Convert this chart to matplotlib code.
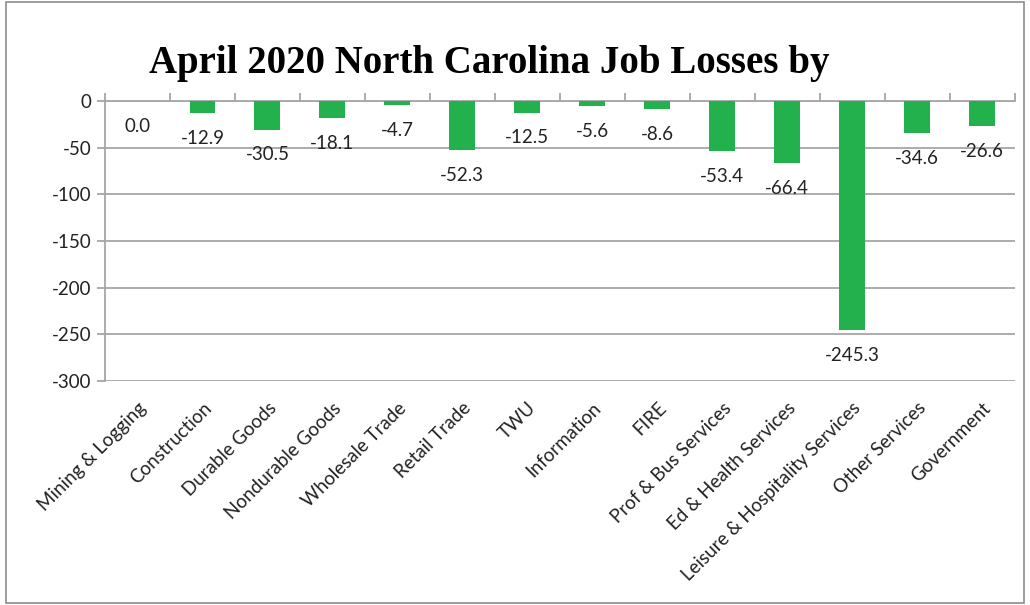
import numpy as np
import matplotlib.pyplot as plt

sectors = ['Mining & Logging', 'Construction', 'Durable Goods', 'Nondurable Goods',
           'Wholesale Trade', 'Retail Trade', 'TWU', 'Information', 'FIRE',
           'Prof & Bus Services', 'Ed & Health Services', 'Leisure & Hospitality Services',
           'Other Services', 'Government']
losses = [0.0, -12.9, -30.5, -18.1, -4.7, -52.3, -12.5, -5.6, -8.6,
          -53.4, -66.4, -245.3, -34.6, -26.6]

plt.rcParams['font.family'] = ['Lato', 'DejaVu Sans']
plt.rcParams['axes.unicode_minus'] = False

fig = plt.figure(figsize=(10.3, 6.05), dpi=100)
ax = fig.add_axes([0.102, 0.370, 0.883, 0.463])

x = np.arange(len(sectors))
ax.bar(x, losses, width=0.4, color='#22b14c', zorder=3)

for xi, v in zip(x, losses):
    ax.annotate('%.1f' % v, (xi, v), xytext=(0, -12), textcoords='offset points',
                ha='center', va='top', fontsize=13.5, color='#222222', zorder=4)

ax.set_xlim(-0.5, len(sectors) - 0.5)
ax.set_ylim(-300, 0)
ax.set_yticks(np.arange(-300, 1, 50))
ax.yaxis.grid(True, color='#a6a6a6', linewidth=1.3, zorder=0)
ax.set_axisbelow(True)

# category labels at the bottom, boundary ticks on the zero line
ax.set_xticks(x)
ax.set_xticklabels(sectors, rotation=45, ha='right', rotation_mode='anchor',
                   fontsize=13.5, color='#222222')
ax.tick_params(axis='x', which='major', length=0, pad=13)
ax.set_xticks(np.arange(-0.5, len(sectors), 1), minor=True)
ax.tick_params(axis='x', which='minor', top=True, bottom=False, length=6,
               color='#a6a6a6', width=1.3)
ax.tick_params(axis='y', length=6, color='#a6a6a6', width=1.3, labelsize=13.5,
               labelcolor='#222222', pad=4)

for s in ['right', 'bottom']:
    ax.spines[s].set_visible(False)
for s in ['left', 'top']:
    ax.spines[s].set_color('#a6a6a6')
    ax.spines[s].set_linewidth(1.3)

fig.text(0.475, 0.895, 'April 2020 North Carolina Job Losses by', ha='center', va='center',
         fontsize=28, fontweight='bold', family='Liberation Serif')

# outer frame
fig.add_artist(plt.Rectangle((0.006, 0.004), 0.988, 0.992, transform=fig.transFigure,
                             fill=False, edgecolor='#8c8c8c', linewidth=1.2))

fig.savefig('out.png', dpi=100)
